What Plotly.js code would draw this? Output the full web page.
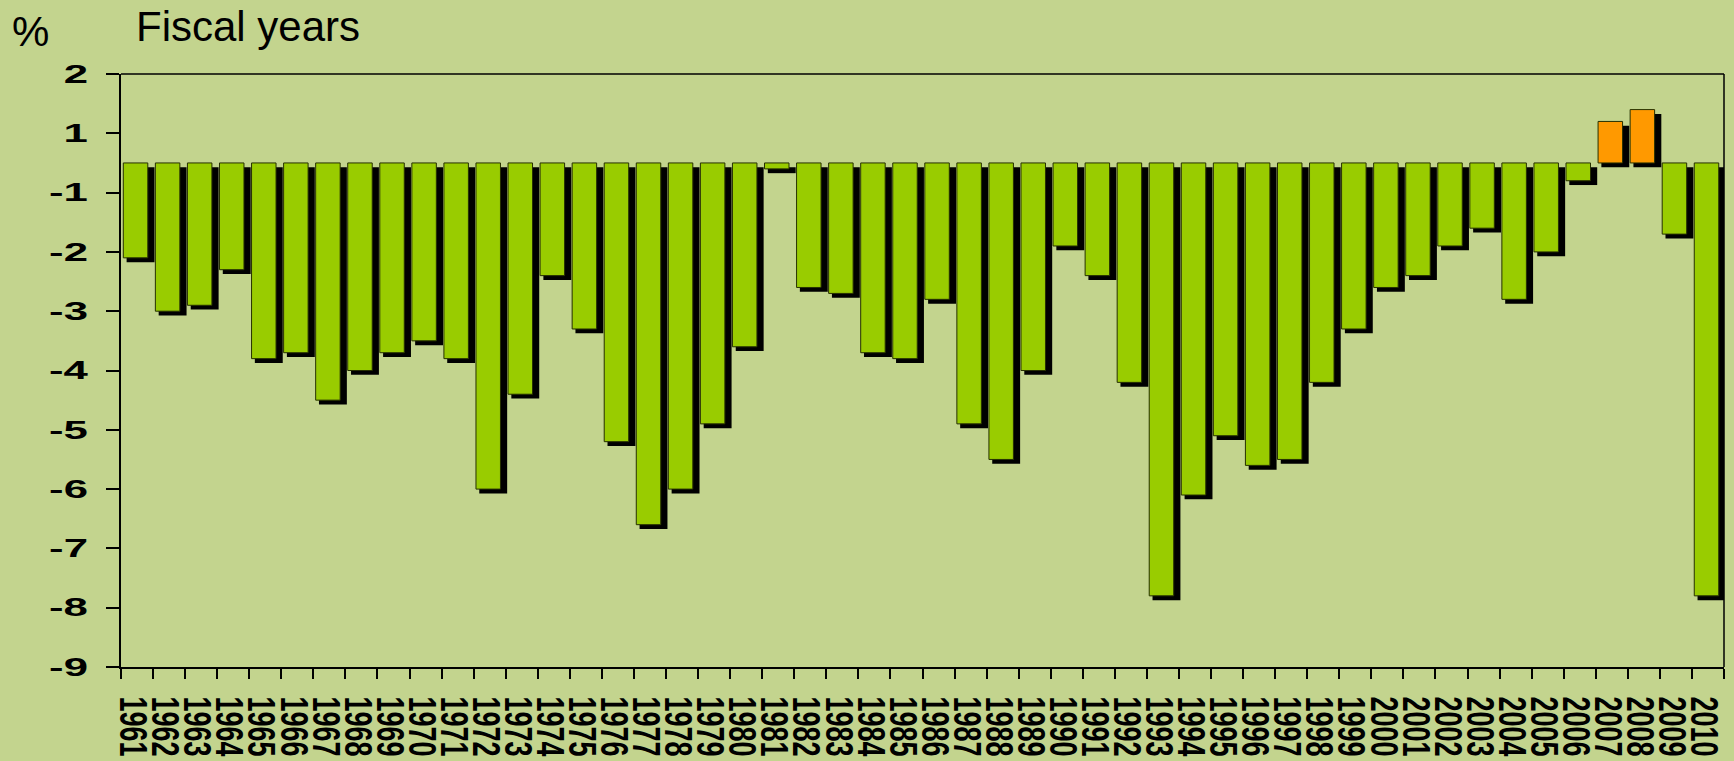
<!DOCTYPE html>
<html>
<head>
<meta charset="utf-8">
<script src="https://cdn.plot.ly/plotly-3.0.1.min.js"></script>
<style>
  html, body { margin: 0; padding: 0; background: #c3d48e; }
  #chart { width: 1734px; height: 761px; }
</style>
</head>
<body>
<div id="chart"></div>
<script>
// ---- data ----
const years = ["1961","1962","1963","1964","1965","1966","1967","1968","1969","1970",
               "1971","1972","1973","1974","1975","1976","1977","1978","1979","1980",
               "1981","1982","1983","1984","1985","1986","1987","1988","1989","1990",
               "1991","1992","1993","1994","1995","1996","1997","1998","1999","2000",
               "2001","2002","2003","2004","2005","2006","2007","2008","2009","2010"];
const balance = [-2.1, -3.0, -2.9, -2.3, -3.8, -3.7, -4.5, -4.0, -3.7, -3.5,
                 -3.8, -6.0, -4.4, -2.4, -3.3, -5.2, -6.6, -6.0, -4.9, -3.6,
                 -0.2, -2.6, -2.7, -3.7, -3.8, -2.8, -4.9, -5.5, -4.0, -1.9,
                 -2.4, -4.2, -7.8, -6.1, -5.1, -5.6, -5.5, -4.2, -3.3, -2.6,
                 -2.4, -1.9, -1.6, -2.8, -2.0, -0.6, 1.2, 1.4, -1.7, -7.8];
const yTickLabels = [2, 1, -1, -2, -3, -4, -5, -6, -7, -8, -9];

// The printed axis has no "0": the labels 1 and -1 sit one tick apart.
// Map printed values onto an evenly spaced axis.
function toAxis(v) {
  if (v >= 1) return v;
  if (v <= -1) return v + 1;
  return (v + 1) / 2;
}
const base0 = toAxis(0);
const lengths = balance.map(v => toAxis(v) - base0);
const colors = balance.map(v => v > 0 ? '#ff9900' : '#99cc00');

const pxPerUnit = 593 / 10;
const shadowDrop = 4.3 / pxPerUnit;

const FONT = 'Liberation Sans, Arial, Helvetica, sans-serif';

const traces = [
  { type: 'bar', x: years, y: lengths, base: base0 - shadowDrop,
    offset: -0.325, width: 0.87,
    marker: { color: '#000000', line: { width: 0 } },
    hoverinfo: 'skip', showlegend: false },
  { type: 'bar', x: years, y: lengths, base: base0,
    offset: -0.428, width: 0.764,
    marker: { color: colors, line: { color: '#263000', width: 1 } },
    customdata: balance,
    hovertemplate: '%{x}: %{customdata}%<extra></extra>', showlegend: false }
];

const layout = {
  width: 1734, height: 761,
  margin: { l: 121, r: 10, t: 74, b: 94, pad: 0 },
  paper_bgcolor: '#c3d48e',
  plot_bgcolor: 'rgba(0,0,0,0)',
  barmode: 'overlay',
  showlegend: false,
  title: {
    text: 'Fiscal years',
    font: { family: FONT, size: 42, color: '#000' },
    xref: 'container', yref: 'container',
    x: 136 / 1734, xanchor: 'left',
    y: 1 - 26 / 761, yanchor: 'middle'
  },
  xaxis: {
    type: 'category', range: [-0.5, 49.5],
    tickmode: 'array', tickvals: years, ticktext: years,
    showline: true, linecolor: '#000', linewidth: 2,
    ticks: 'outside', ticklen: 10, tickwidth: 2, tickcolor: '#000',
    tickson: 'boundaries', tickangle: 90,
    ticklabelstandoff: 22,
    tickfont: { family: FONT, size: 27, weight: 'bold', color: '#000' },
    showgrid: false, zeroline: false, fixedrange: true
  },
  yaxis: {
    range: [-8, 2],
    tickmode: 'array',
    tickvals: yTickLabels.map(toAxis),
    ticktext: yTickLabels.map(String),
    showline: true, linecolor: '#000', linewidth: 2,
    ticks: 'outside', ticklen: 13, tickwidth: 2, tickcolor: '#000',
    ticklabelstandoff: 13,
    tickfont: { family: FONT, size: 25, weight: 'bold', color: '#000' },
    showgrid: false, zeroline: false, fixedrange: true
  },
  annotations: [{
    text: '%', xref: 'paper', yref: 'paper',
    x: (10 - 121) / 1603, xanchor: 'left',
    y: 1 + (74 - 32) / 593, yanchor: 'middle',
    showarrow: false,
    font: { family: FONT, size: 42, color: '#000' }
  }],
  shapes: [
    { type: 'line', xref: 'paper', yref: 'paper', x0: 0, x1: 1, y0: 1, y1: 1,
      line: { color: '#000', width: 1.5 } },
    { type: 'line', xref: 'paper', yref: 'paper', x0: 1, x1: 1, y0: 0, y1: 1,
      line: { color: '#000', width: 1.5 } }
  ]
};

// the tick labels of the original are printed wide (horizontally stretched)
function stretchLabels(selector, k, anchor, dx) {
  const svg = document.querySelector('#chart svg.main-svg');
  document.querySelectorAll(selector).forEach(t => {
    const r = t.getBoundingClientRect();
    const inv = t.parentNode.getScreenCTM().inverse();
    const p = svg.createSVGPoint();
    p.x = anchor === 'right' ? r.right : (r.left + r.right) / 2;
    p.y = (r.top + r.bottom) / 2;
    const c = p.matrixTransform(inv);
    const orig = t.getAttribute('transform') || '';
    t.setAttribute('transform',
      'translate(' + (c.x + dx) + ',0) scale(' + k + ',1) translate(' + (-c.x) + ',0) ' + orig);
  });
}

Plotly.newPlot('chart', traces, layout, { displayModeBar: false, responsive: false })
  .then(() => {
    stretchLabels('#chart g.xtick text', 1.45, 'center', -4);
    stretchLabels('#chart g.ytick text', 1.75, 'right', 0);
  });
</script>
</body>
</html>
